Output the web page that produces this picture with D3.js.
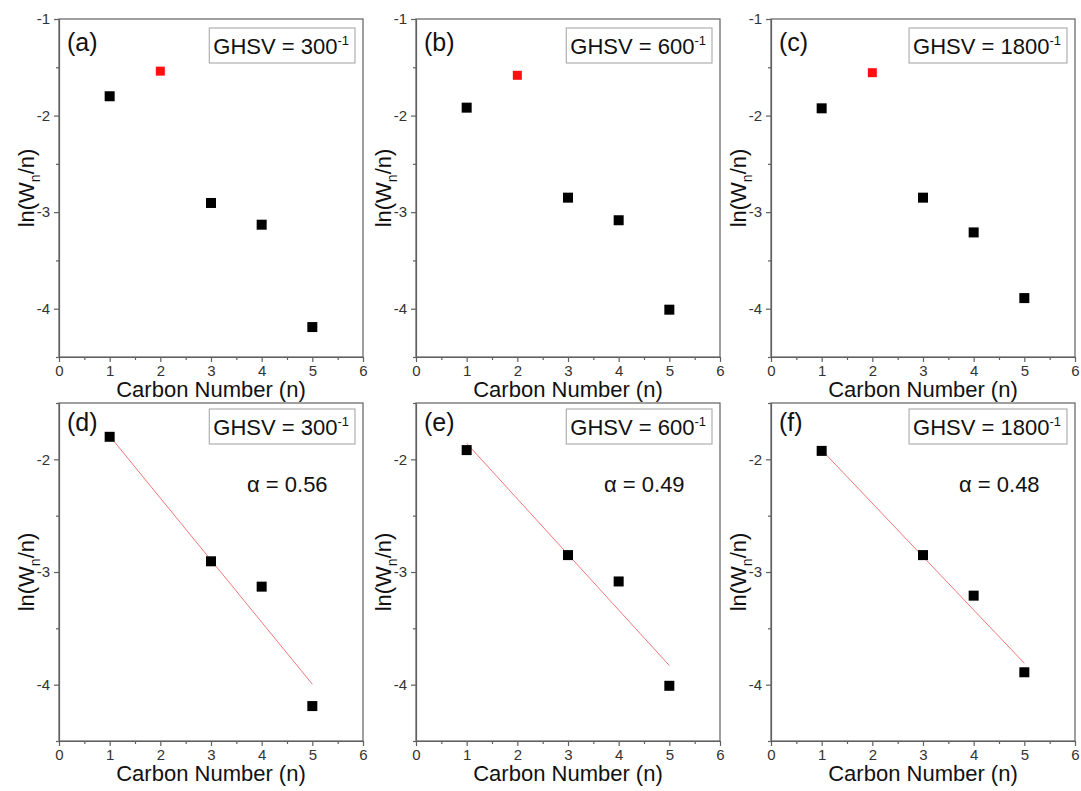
<!DOCTYPE html>
<html>
<head>
<meta charset="utf-8">
<script src="https://cdn.jsdelivr.net/npm/d3@7"></script>
<style>
  body { margin: 0; background: #fff; }
  text { font-family: Arial, "Liberation Sans", sans-serif; }
</style>
</head>
<body>
<div id="chart"></div>
<script>

// Carbon numbers and ln(Wn/n) values for each GHSV
var carbonNumbers = [1, 2, 3, 4, 5];
var lnW300 = [-1.80, -1.54, -2.905, -3.13, -4.19];
var lnW600 = [-1.918, -1.583, -2.85, -3.084, -4.01];
var lnW1800 = [-1.925, -1.556, -2.85, -3.21, -3.89];

// ASF fit lines (start and end of each red line)
var fitCarbon = [1, 5];
var fit300 = [-1.793, -3.996];
var fit600 = [-1.858, -3.83];
var fit1800 = [-1.917, -3.81];

var ghsvLabels = ["300", "600", "1800"];
var alphaLabels = ["0.56", "0.49", "0.48"];
var topLetters = ["(a)", "(b)", "(c)"];
var bottomLetters = ["(d)", "(e)", "(f)"];
var xTicks = [0, 1, 2, 3, 4, 5, 6];

var seriesList = [lnW300, lnW600, lnW1800];
var fitList = [fit300, fit600, fit1800];

// Plot areas
var columnLeft = [59, 416, 771];
var plotWidth = 304;
var plotHeight = 338;
var rowTop = [19, 403];

var svg = d3.select("#chart")
  .append("svg")
  .attr("width", 1081)
  .attr("height", 791);

svg.append("rect")
  .attr("width", 1081)
  .attr("height", 791)
  .attr("fill", "#fff");

// plain hyphen minus like the original figure
var fmt = function(d) { return String(d); };

function drawPanel(col, row) {
  var left = columnLeft[col];
  var top = rowTop[row];
  var fitted = row === 1;

  var x = d3.scaleLinear().domain([0, 6]).range([0, plotWidth]);
  var y = d3.scaleLinear()
    .domain(fitted ? [-4.5, -1.5] : [-4.5, -1])
    .range([plotHeight, 0]);

  var g = svg.append("g").attr("transform", "translate(" + left + "," + top + ")");

  // Frame
  g.append("rect")
    .attr("width", plotWidth)
    .attr("height", plotHeight)
    .attr("fill", "none")
    .attr("stroke", "#606060")
    .attr("stroke-width", 1.2);

  // Minor ticks
  var xMinor = d3.range(0.5, 6, 1);
  var yMinor = [-4.5, -3.5, -2.5, -1.5];

  g.append("g")
    .attr("transform", "translate(0," + plotHeight + ")")
    .call(d3.axisBottom(x).tickValues(xMinor).tickSize(3).tickFormat(""))
    .call(function(a) { a.select(".domain").remove(); });

  g.append("g")
    .call(d3.axisLeft(y).tickValues(yMinor).tickSize(3).tickFormat(""))
    .call(function(a) { a.select(".domain").remove(); });

  // Major axes
  var xAxis = g.append("g")
    .attr("transform", "translate(0," + plotHeight + ")")
    .call(d3.axisBottom(x).tickValues(xTicks).tickSize(5).tickSizeOuter(0)
      .tickPadding(3).tickFormat(fmt));

  var yAxis = g.append("g")
    .call(d3.axisLeft(y).tickValues(fitted ? [-4, -3, -2] : [-4, -3, -2, -1])
      .tickSize(5).tickSizeOuter(0).tickPadding(4).tickFormat(fmt));

  [xAxis, yAxis].forEach(function(a) {
    a.selectAll("text")
      .attr("fill", "#333")
      .style("font-size", "15px")
      .style("font-family", "Arial, 'Liberation Sans', sans-serif");
  });

  g.selectAll(".tick line").attr("stroke", "#606060").attr("stroke-width", 1.2);
  g.selectAll(".domain").attr("stroke", "#606060").attr("stroke-width", 1.2);

  // Axis titles
  g.append("text")
    .attr("x", plotWidth / 2)
    .attr("y", plotHeight + 40)
    .attr("text-anchor", "middle")
    .style("font-size", "22px")
    .attr("fill", "#111")
    .text("Carbon Number (n)");

  var yTitle = g.append("text")
    .attr("transform", "translate(-25," + (plotHeight / 2) + ") rotate(-90)")
    .attr("text-anchor", "middle")
    .style("font-size", "22px")
    .attr("fill", "#111");
  yTitle.append("tspan").text("ln(W");
  yTitle.append("tspan").attr("dy", 6).style("font-size", "14px").text("n");
  yTitle.append("tspan").attr("dy", -6).text("/n)");

  // Panel letter
  g.append("text")
    .attr("x", 8)
    .attr("y", fitted ? 28 : 32)
    .style("font-size", "25px")
    .attr("fill", "#111")
    .text(fitted ? bottomLetters[col] : topLetters[col]);

  // GHSV box
  var box = g.append("g");
  var label = box.append("text")
    .attr("y", fitted ? 32 : 35)
    .style("font-size", "22px")
    .attr("fill", "#111");
  label.append("tspan").text("GHSV = " + ghsvLabels[col]);
  label.append("tspan").attr("dy", -9).style("font-size", "13px").text("-1");
  var bb = label.node().getBBox();
  var boxRight = plotWidth - 8;
  label.attr("x", boxRight - 6 - bb.width);
  label.select("tspan").attr("x", boxRight - 6 - bb.width);
  box.insert("rect", "text")
    .attr("x", boxRight - bb.width - 10)
    .attr("y", fitted ? 6 : 9)
    .attr("width", bb.width + 10)
    .attr("height", 35)
    .attr("fill", "#fff")
    .attr("stroke", "#b0b0b0")
    .attr("stroke-width", 1.2);

  var values = seriesList[col];
  var points = carbonNumbers.map(function(n, i) { return { n: n, v: values[i] }; });

  if (fitted) {
    points = points.filter(function(p) { return p.n !== 2; });

    g.append("text")
      .attr("x", 188)
      .attr("y", 89)
      .style("font-size", "22px")
      .attr("fill", "#111")
      .text("\u03b1 = " + alphaLabels[col]);

    var fit = fitList[col];
    g.append("line")
      .attr("x1", x(fitCarbon[0]))
      .attr("y1", y(fit[0]))
      .attr("x2", x(fitCarbon[1]))
      .attr("y2", y(fit[1]))
      .attr("stroke", "#f07878")
      .attr("stroke-width", 1);
  }

  // Square markers, red for C2
  g.selectAll("rect.pt")
    .data(points)
    .enter()
    .append("rect")
    .attr("class", "pt")
    .attr("x", function(d) { return x(d.n) - (d.n === 2 ? 4.5 : 5); })
    .attr("y", function(d) { return y(d.v) - (d.n === 2 ? 4.5 : 5); })
    .attr("width", function(d) { return d.n === 2 ? 9 : 10; })
    .attr("height", function(d) { return d.n === 2 ? 9 : 10; })
    .attr("fill", function(d) { return d.n === 2 ? "#ff1010" : "#000"; });
}

[0, 1].forEach(function(row) {
  [0, 1, 2].forEach(function(col) {
    drawPanel(col, row);
  });
});

</script>
</body>
</html>
